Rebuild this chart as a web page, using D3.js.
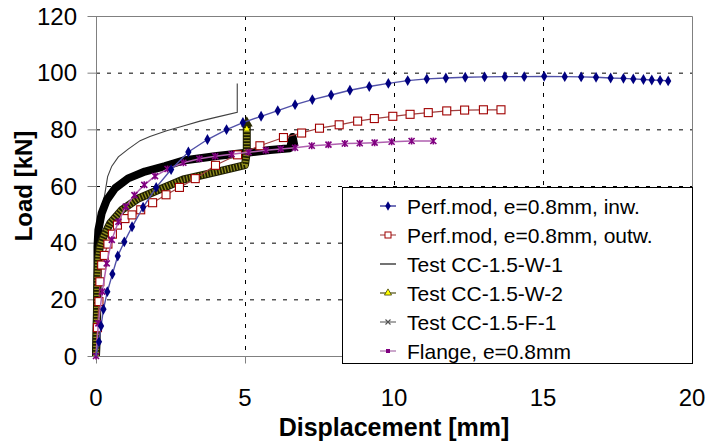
<!DOCTYPE html>
<html>
<head>
<meta charset="utf-8">
<script src="https://cdn.jsdelivr.net/npm/d3@7"></script>
<style>
  body { margin: 0; background: #fff; }
  text { font-family: Arial, "Liberation Sans", sans-serif; }
  .tick_lbl { font-size: 24px; fill: #000; }
  .ax_title { font-size: 24px; font-weight: bold; fill: #000; }
  .leg_lbl { font-size: 21px; fill: #000; }
</style>
</head>
<body>
<div class="fig"></div>
<script>
// values: [displacement mm, load kN]
var perfInw = [[0,0],[0.1,5],[0.17,10.6],[0.25,16.5],[0.38,22.7],[0.55,28.9],[0.73,35.3],[0.95,40.3],
  [1.21,45.6],[1.58,52.5],[2.02,59.5],[2.52,65.8],[3.1,72],[3.74,76.4],[4.38,79.9],[4.93,82.4],[5.54,84.6],
  [6.1,86.6],[6.68,88.7],[7.26,90.5],[7.89,92.1],[8.52,93.8],[9.17,95.1],[9.81,96.2],[10.46,97.2],
  [11.1,97.8],[11.74,98.1],[12.39,98.4],[13.04,98.5],[13.72,98.6],[14.37,98.6],[15.04,98.7],[15.73,98.6],
  [16.28,98.5],[16.78,98.4],[17.27,98.1],[17.7,98],[18.03,97.8],[18.37,97.6],[18.65,97.4],[18.93,97.3],[19.2,97.1]];

var perfOutw = [[0,0],[0.05,10],[0.1,19.2],[0.13,26.2],[0.19,32.1],[0.28,35.5],[0.4,39.5],[0.55,43],
  [0.72,46.2],[0.97,48.5],[1.21,49.8],[1.5,51.6],[1.9,54.1],[2.35,56.9],[2.8,59.5],[3.33,62.6],[4.01,67.3],
  [4.75,71],[5.5,74.2],[6.29,77.1],[6.9,78.7],[7.5,80.4],[8.16,81.6],[8.78,82.9],[9.34,83.8],[9.96,84.6],
  [10.54,85.3],[11.15,85.9],[11.77,86.5],[12.37,86.8],[13.0,86.9],[13.59,86.9]];

var testW1 = [[0,0],[0.05,20],[0.12,40],[0.2,52],[0.3,57.4],[0.39,63.3],[0.53,67],[0.75,70.3],[1.08,73],
  [1.48,76],[1.81,77.5],[2.37,79.5],[2.93,81.2],[3.49,82.9],[4.05,84.3],[4.74,86],[4.74,96.2]];

var testW2 = [[0,0],[0.03,15],[0.05,28],[0.08,35],[0.13,38.6],[0.25,42.1],[0.47,46.8],[0.86,51.5],
  [1.42,55.6],[2.09,58.6],[2.93,62.3],[4.05,65],[5.0,67.4],[5.06,72],[5.06,81.5]];

var testF1 = [[0,0],[0.04,15],[0.05,30],[0.05,38.6],[0.08,44.5],[0.19,50.4],[0.36,55],[0.64,59.2],
  [1.08,62.7],[1.64,65.1],[2.32,67],[2.93,69],[4.05,70.6],[5.2,71.9],[5.84,72.7],[6.51,73.3],[6.6,77.3],[6.66,74]];

var flange = [[0,0],[0.08,11.5],[0.21,22.7],[0.36,32.7],[0.53,41],[0.75,47.4],[1.0,52.7],[1.29,56.8],
  [1.62,60.4],[1.98,63.5],[2.4,66],[2.93,68.2],[3.47,69.6],[4.0,70.5],[4.55,71.2],[5.12,71.9],[5.7,72.6],
  [6.2,73.1],[6.68,73.5],[7.24,74.2],[7.8,74.6],[8.35,75],[8.85,75.1],[9.35,75.3],[9.92,75.6],[10.59,75.9],[11.32,75.9]];

var legendNames = ["Perf.mod, e=0.8mm, inw.", "Perf.mod, e=0.8mm, outw.", "Test CC-1.5-W-1",
  "Test CC-1.5-W-2", "Test CC-1.5-F-1", "Flange, e=0.8mm"];

var xTicks = [0, 5, 10, 15, 20];
var yTicks = [0, 20, 40, 60, 80, 100, 120];

var W = 707, H = 444;
var margin = {top: 16, right: 15, bottom: 88, left: 96};

var svg = d3.select(".fig").append("svg")
    .attr("width", W)
    .attr("height", H);

var xScale = d3.scaleLinear().domain([0, 20]).range([margin.left, W - margin.right]);
var yScale = d3.scaleLinear().domain([0, 120]).range([H - margin.bottom, margin.top]);

var x0 = xScale(0), x1 = xScale(20), y0 = yScale(0), y1 = yScale(120);

// dashed grid
svg.append("g").selectAll("line")
    .data(yTicks.filter(d => d > 0 && d < 120))
    .enter().append("line")
    .attr("x1", x0).attr("x2", x1)
    .attr("y1", d => yScale(d) + 0.5).attr("y2", d => yScale(d) + 0.5)
    .attr("stroke", "#000").attr("stroke-dasharray", "4,7");

svg.append("g").selectAll("line")
    .data(xTicks.filter(d => d > 0 && d < 20))
    .enter().append("line")
    .attr("x1", d => xScale(d) + 0.5).attr("x2", d => xScale(d) + 0.5)
    .attr("y1", y1).attr("y2", y0)
    .attr("stroke", "#000").attr("stroke-dasharray", "4,7");

// frame
svg.append("path")
    .attr("d", "M" + (x0 + 0.5) + "," + (y1 + 0.5) + "H" + (x1 + 0.5) + "V" + (y0 + 0.5))
    .attr("fill", "none").attr("stroke", "#808080");

// axes
var yAxis = d3.axisLeft(yScale).tickValues(yTicks).tickSize(9).tickFormat("");
var xAxis = d3.axisBottom(xScale).tickValues(xTicks).tickSize(7).tickFormat("");

svg.append("g").attr("transform", "translate(" + (x0 + 0.5) + ",0)").call(yAxis)
    .call(g => g.selectAll("line, path").attr("stroke", "#808080"))
    .call(g => g.select(".domain").attr("d", "M0," + y0 + "V" + y1));
svg.append("g").attr("transform", "translate(0," + (y0 + 0.5) + ")").call(xAxis)
    .call(g => g.selectAll("line, path").attr("stroke", "#808080"))
    .call(g => g.select(".domain").attr("d", "M" + x0 + ",0H" + x1));

// tick labels
svg.append("g").selectAll("text")
    .data(yTicks)
    .enter().append("text")
    .attr("class", "tick_lbl")
    .attr("x", 77)
    .attr("y", d => yScale(d))
    .attr("dy", "0.36em")
    .attr("text-anchor", "end")
    .text(d => d);

svg.append("g").selectAll("text")
    .data(xTicks)
    .enter().append("text")
    .attr("class", "tick_lbl")
    .attr("x", d => xScale(d))
    .attr("y", 406)
    .attr("text-anchor", "middle")
    .text(d => d);

// axis titles
svg.append("text")
    .attr("class", "ax_title")
    .attr("x", (x0 + x1) / 2)
    .attr("y", 436)
    .attr("text-anchor", "middle")
    .style("font-size", "25px")
    .text("Displacement [mm]");

svg.append("text")
    .attr("class", "ax_title")
    .attr("transform", "translate(32," + ((y0 + y1) / 2) + ") rotate(-90)")
    .attr("text-anchor", "middle")
    .text("Load [kN]");

var line = d3.line().x(d => xScale(d[0])).y(d => yScale(d[1]));

// Test W-1 thin line
svg.append("path")
    .attr("d", line(testW1))
    .attr("fill", "none").attr("stroke", "#404040").attr("stroke-width", 1.1);

// Test F-1: dense x markers read as a thick black band
svg.append("path")
    .attr("d", line(testF1))
    .attr("fill", "none").attr("stroke", "#000").attr("stroke-width", 8)
    .attr("stroke-linejoin", "round");

// Test W-2: dense yellow triangles -> striped olive band
svg.append("path")
    .attr("d", line(testW2))
    .attr("fill", "none").attr("stroke", "#1e1e00").attr("stroke-width", 8)
    .attr("stroke-linejoin", "round");
svg.append("path")
    .attr("d", line(testW2))
    .attr("fill", "none").attr("stroke", "#8f8c1c").attr("stroke-width", 6)
    .attr("stroke-dasharray", "1.3,1.7");

var w2End = testW2[testW2.length - 1];
svg.append("path")
    .attr("d", d3.symbol(d3.symbolTriangle, 60)())
    .attr("transform", "translate(" + xScale(w2End[0]) + "," + (yScale(w2End[1]) - 2) + ")")
    .attr("fill", "#2a2a00");
svg.append("path")
    .attr("d", d3.symbol(d3.symbolTriangle, 14)())
    .attr("transform", "translate(" + xScale(w2End[0]) + "," + (yScale(w2End[1]) + 4) + ")")
    .attr("fill", "#ffff00");

// marker shapes
var diamond = d3.symbol(d3.symbolDiamond, 34)();
var star = "M-3,-3L3,3M-3,3L3,-3M0,-3.5V3.5";

// Perf.mod outw.
svg.append("path")
    .attr("d", line(perfOutw))
    .attr("fill", "none").attr("stroke", "#a04040").attr("stroke-width", 1.2);
svg.append("g").selectAll("rect")
    .data(perfOutw.slice(1))
    .enter().append("rect")
    .attr("x", d => xScale(d[0]) - 4)
    .attr("y", d => yScale(d[1]) - 4)
    .attr("width", 8).attr("height", 8)
    .attr("fill", "#fff").attr("stroke", "#a00000").attr("stroke-width", 1.1);

// Flange
svg.append("path")
    .attr("d", line(flange))
    .attr("fill", "none").attr("stroke", "#b060b0").attr("stroke-width", 1.5);
svg.append("g").selectAll("path")
    .data(flange)
    .enter().append("path")
    .attr("d", star)
    .attr("transform", d => "translate(" + xScale(d[0]) + "," + yScale(d[1]) + ")")
    .attr("fill", "none").attr("stroke", "#800080").attr("stroke-width", 1.6);

// Perf.mod inw.
svg.append("path")
    .attr("d", line(perfInw))
    .attr("fill", "none").attr("stroke", "#5050a8").attr("stroke-width", 1.4);
svg.append("g").selectAll("path")
    .data(perfInw.slice(1))
    .enter().append("path")
    .attr("d", diamond)
    .attr("transform", d => "translate(" + xScale(d[0]) + "," + yScale(d[1]) + ")")
    .attr("fill", "#000080");

// Legend
var lx = 342, ly = 187, lw = 350, lh = 176, rowH = 29;
var legend = svg.append("g");
legend.append("rect")
    .attr("x", lx + 0.5).attr("y", ly + 0.5)
    .attr("width", lw).attr("height", lh)
    .attr("fill", "#fff").attr("stroke", "#000");

var legColors = ["#000080", "#a04040", "#000", "#404000", "#606060", "#a060a0"];

var rows = legend.selectAll("g.row")
    .data(legendNames)
    .enter().append("g")
    .attr("transform", (d, i) => "translate(0," + (ly + 19 + i * rowH) + ")");

rows.append("line")
    .attr("x1", 380).attr("x2", 396)
    .attr("stroke", (d, i) => legColors[i])
    .attr("stroke-width", 1.1);

rows.append("text")
    .attr("class", "leg_lbl")
    .attr("x", 407)
    .attr("dy", "0.36em")
    .text(d => d);

rows.filter((d, i) => i == 0).append("path")
    .attr("d", d3.symbol(d3.symbolDiamond, 26)())
    .attr("transform", "translate(388,0)")
    .attr("fill", "#000080");
rows.filter((d, i) => i == 1).append("rect")
    .attr("x", 385).attr("y", -3).attr("width", 6).attr("height", 6)
    .attr("fill", "#fff").attr("stroke", "#a00000");
rows.filter((d, i) => i == 3).append("path")
    .attr("d", d3.symbol(d3.symbolTriangle, 22)())
    .attr("transform", "translate(388,0)")
    .attr("fill", "#ffff00").attr("stroke", "#404000").attr("stroke-width", 0.8);
rows.filter((d, i) => i == 4).append("path")
    .attr("d", "M-2.5,-2.5L2.5,2.5M-2.5,2.5L2.5,-2.5")
    .attr("transform", "translate(388,0)")
    .attr("stroke", "#505050").attr("stroke-width", 1.1);
rows.filter((d, i) => i == 5).append("rect")
    .attr("x", 386).attr("y", -2).attr("width", 4).attr("height", 4)
    .attr("fill", "#800080");
</script>
</body>
</html>
